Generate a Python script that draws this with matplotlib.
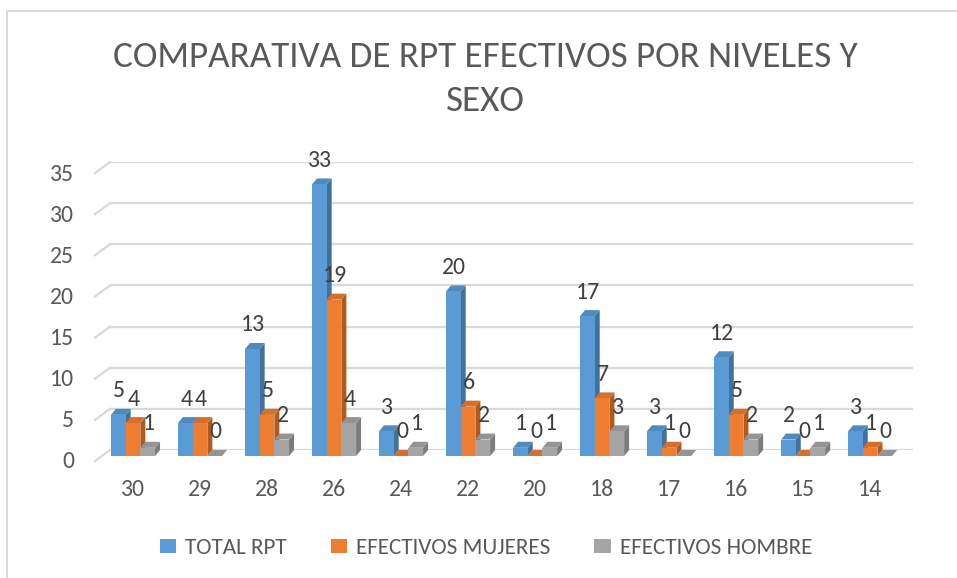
import matplotlib
matplotlib.use('Agg')
import matplotlib.pyplot as plt
from matplotlib.patches import Polygon, Rectangle, Patch
from matplotlib.lines import Line2D

plt.rcParams['font.family'] = ['Carlito', 'DejaVu Sans']

niveles = ['30', '29', '28', '26', '24', '22', '20', '18', '17', '16', '15', '14']
total_rpt = [5, 4, 13, 33, 3, 20, 1, 17, 3, 12, 2, 3]
mujeres = [4, 4, 5, 19, 0, 6, 0, 7, 1, 5, 0, 1]
hombres = [1, 0, 2, 4, 1, 2, 1, 3, 0, 2, 1, 0]
series_names = ['TOTAL RPT', 'EFECTIVOS MUJERES', 'EFECTIVOS HOMBRE']
titulo = ['COMPARATIVA DE RPT EFECTIVOS POR NIVELES Y', 'SEXO']

front_cols = ['#5B9BD5', '#ED7D31', '#A5A5A5']
side_cols = ['#41719C', '#AE5A21', '#7C7C7C']
top_cols = ['#4F8AC0', '#D56F2B', '#949494']
text_col = '#595959'

W, H = 957, 578
fig = plt.figure(figsize=(W / 100, H / 100), dpi=100)
renderer = fig.canvas.get_renderer()


def fit_size(s, target_px, base=20):
    # font size giving the wanted pixel width for string s
    t = fig.text(0, 0, s, fontsize=base)
    w = t.get_window_extent(renderer).width
    t.remove()
    return base * target_px / w


fs_title = fit_size(titulo[0], 746)
fs_legend = fit_size(series_names[0], 102)
fs_tick = fit_size('35', 24)

# chart border, only left and top edges show
fig.add_artist(Line2D([7 / W, 7 / W, 1], [0, 1 - 11 / H, 1 - 11 / H], transform=fig.transFigure,
                      color='#D9D9D9', lw=1.5))

# axes = back wall of the 3d plot
x0, x1 = 110, 913
y0, y1 = 450, 162
ax = fig.add_axes([x0 / W, 1 - y0 / H, (x1 - x0) / W, (y0 - y1) / H])
ax.set_ylim(0, 35)
ax.set_xlim(-0.343, 11.64)
for s in ax.spines.values():
    s.set_visible(False)
ax.set_yticks([])
ax.set_xticks(range(len(niveles)))
ax.set_xticklabels(niveles, fontsize=fs_tick, color=text_col)
ax.tick_params(axis='x', length=0, pad=21)

px_x = (x1 - x0) / (11.64 + 0.343)   # pixels per category
px_y = (y0 - y1) / 35.0              # pixels per unit

# gridlines with slanted left end + y tick labels
for v in range(0, 36, 5):
    ax.plot([-0.343, 11.64], [v, v], color='#D9D9D9', lw=1.6, zorder=0, solid_capstyle='butt')
    ax.plot([-0.343, -0.343 - 15 / px_x], [v, v - 11 / px_y], color='#D9D9D9', lw=1.6,
            zorder=0, clip_on=False)
    ax.text(-0.343 - 36 / px_x, v - 12 / px_y, str(v), ha='right', va='center',
            fontsize=fs_tick, color=text_col)

# 3d-like bars
bw = 14.7 / px_x
ddx = 5 / px_x
ddy = 6 / px_y
z = 2
for i in range(len(niveles)):
    for k, vals in enumerate([total_rpt, mujeres, hombres]):
        v = vals[i]
        xl = i + (k - 1.5) * bw
        xr = xl + bw
        fb = -ddy
        ft = v - ddy
        ax.add_patch(Polygon([(xr, fb), (xr + ddx, fb + ddy), (xr + ddx, ft + ddy), (xr, ft)],
                             closed=True, facecolor=side_cols[k], edgecolor='none', zorder=z, clip_on=False))
        ax.add_patch(Polygon([(xl, ft), (xr, ft), (xr + ddx, ft + ddy), (xl + ddx, ft + ddy)],
                             closed=True, facecolor=top_cols[k], edgecolor='none', zorder=z, clip_on=False))
        ax.add_patch(Rectangle((xl, fb), bw, v, facecolor=front_cols[k], edgecolor='none',
                               zorder=z, clip_on=False))
        z += 1
        ax.annotate(str(v), xy=(xl + bw / 2 + 1 / px_x, v), xytext=(0, 13), textcoords='offset points',
                    ha='center', va='center', fontsize=fs_tick, color='#404040', zorder=100,
                    annotation_clip=False)

fig.text(485 / W, 1 - 57 / H, titulo[0], ha='center', va='center', fontsize=fs_title, color=text_col)
fig.text(485 / W, 1 - 101 / H, titulo[1], ha='center', va='center', fontsize=fs_title, color=text_col)

handles = [Patch(facecolor=c, edgecolor='none') for c in front_cols]
fig.legend(handles, series_names, loc='center', bbox_to_anchor=(486 / W, 1 - 548 / H), ncol=3,
           frameon=False, fontsize=fs_legend, handlelength=0.7, handleheight=0.6, handletextpad=0.4,
           columnspacing=1.9, labelcolor=text_col)

plt.savefig('out.png', dpi=100)
